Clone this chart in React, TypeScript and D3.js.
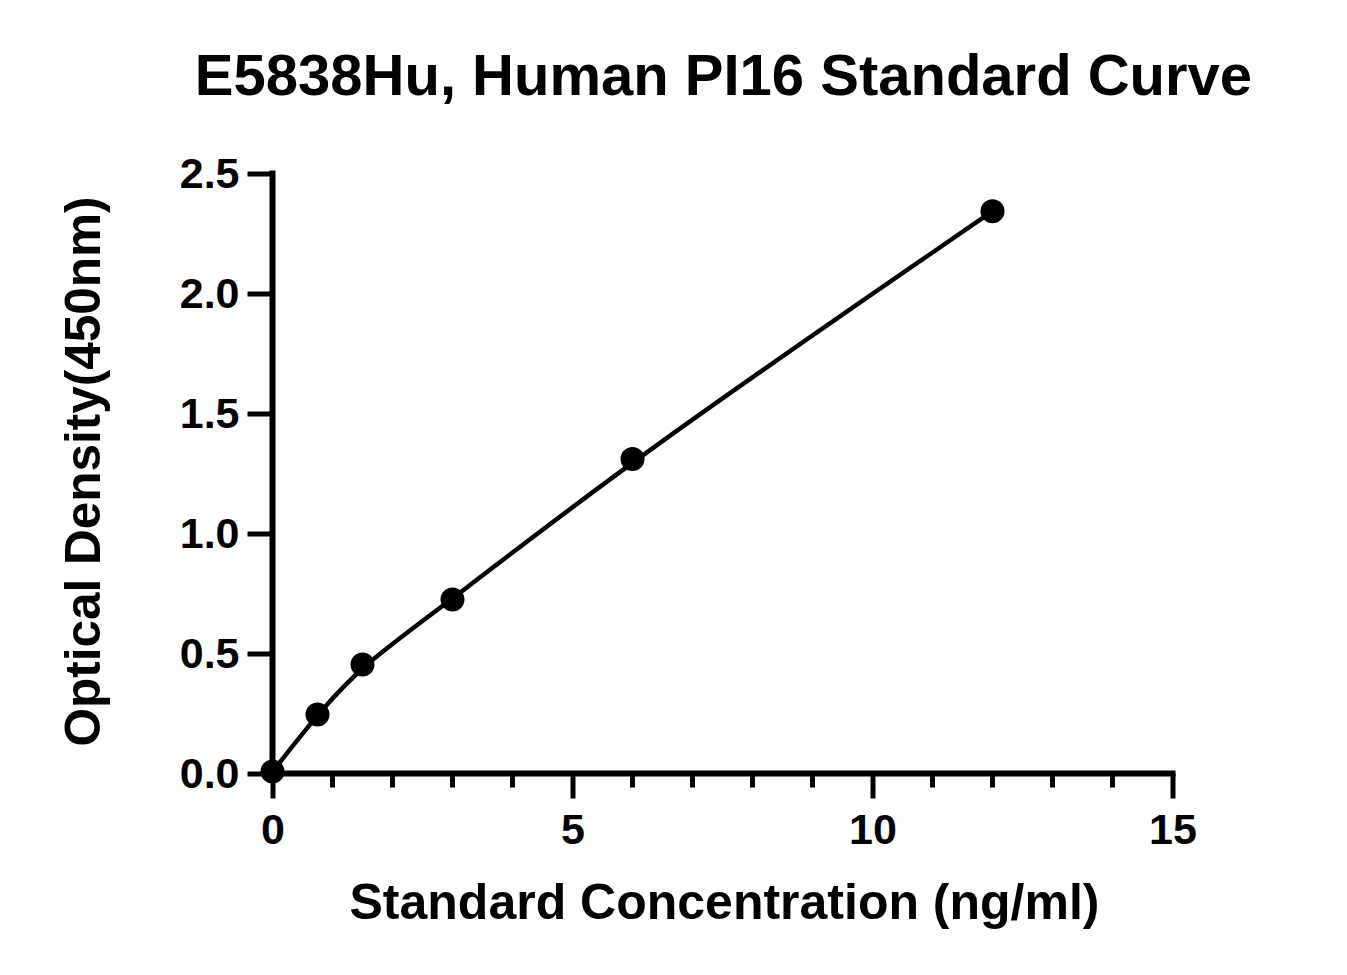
import * as d3 from 'd3'
import { useEffect, useRef } from 'react'

// Standard curve readings (concentration in ng/ml, OD at 450nm)
const concentrations = [0, 0.75, 1.5, 3, 6, 12]
const odValues = [0.008, 0.246, 0.454, 0.725, 1.31, 2.343]
const xTicks = [0, 5, 10, 15]
const xMinorTicks = d3.range(0, 16)
const yTicks = [0, 0.5, 1.0, 1.5, 2.0, 2.5]

const title = 'E5838Hu, Human PI16 Standard Curve'
const xTitle = 'Standard Concentration (ng/ml)'
const yTitle = 'Optical Density(450nm)'

const FONT = '"Liberation Sans", Arial, sans-serif'

export default function App() {
  const svgRef = useRef<SVGSVGElement>(null)

  useEffect(() => {
    if (!svgRef.current) return

    const width = 1347
    const height = 975
    const margin = { top: 173.5, right: 174.5, bottom: 201.5, left: 272.5 }
    const innerW = width - margin.left - margin.right
    const innerH = height - margin.top - margin.bottom

    const data = concentrations.map((c, i) => ({ x: c, y: odValues[i] }))

    const xScale = d3.scaleLinear().domain([0, 15]).range([0, innerW])
    const yScale = d3.scaleLinear().domain([0, 2.5]).range([innerH, 0])

    d3.select(svgRef.current).selectAll('*').remove()

    const root = d3
      .select(svgRef.current)
      .attr('width', width)
      .attr('height', height)

    root
      .append('rect')
      .attr('width', width)
      .attr('height', height)
      .attr('fill', '#fff')

    // Title
    root
      .append('text')
      .attr('x', margin.left + innerW / 2 + 1)
      .attr('y', 95)
      .attr('text-anchor', 'middle')
      .attr('font-family', FONT)
      .attr('font-weight', 'bold')
      .attr('font-size', 58)
      .attr('fill', '#000')
      .text(title)

    const svg = root
      .append('g')
      .attr('transform', `translate(${margin.left},${margin.top})`)

    // Minor x ticks
    svg
      .append('g')
      .attr('transform', `translate(0,${innerH})`)
      .selectAll('line')
      .data(xMinorTicks.filter((t) => !xTicks.includes(t)))
      .enter()
      .append('line')
      .attr('x1', (d: number) => xScale(d))
      .attr('x2', (d: number) => xScale(d))
      .attr('y1', 0)
      .attr('y2', 14)
      .attr('stroke', '#000')
      .attr('stroke-width', 5)

    // X axis
    const xAxis = svg
      .append('g')
      .attr('transform', `translate(0,${innerH})`)
      .call(
        d3
          .axisBottom(xScale)
          .tickValues(xTicks)
          .tickSize(25)
          .tickSizeOuter(0)
          .tickPadding(15)
          .tickFormat(d3.format('d'))
      )
    xAxis.select('.domain').attr('stroke-width', 6).attr('d', `M-3,0H${innerW + 3}`)
    xAxis.selectAll('.tick line').attr('stroke-width', 5)
    xAxis
      .selectAll('.tick text')
      .attr('font-family', FONT)
      .attr('font-weight', 'bold')
      .attr('font-size', 43)
      .attr('fill', '#000')

    // Y axis
    const yAxis = svg
      .append('g')
      .call(
        d3
          .axisLeft(yScale)
          .tickValues(yTicks)
          .tickSize(25)
          .tickSizeOuter(0)
          .tickPadding(8)
          .tickFormat(d3.format('.1f'))
      )
    yAxis.select('.domain').attr('stroke-width', 6).attr('d', `M0,-3V${innerH + 3}`)
    yAxis.selectAll('.tick line').attr('stroke-width', 5)
    yAxis
      .selectAll('.tick text')
      .attr('font-family', FONT)
      .attr('font-weight', 'bold')
      .attr('font-size', 43)
      .attr('fill', '#000')

    // Axis titles
    root
      .append('text')
      .attr('x', margin.left + innerW / 2 + 2)
      .attr('y', 919)
      .attr('text-anchor', 'middle')
      .attr('font-family', FONT)
      .attr('font-weight', 'bold')
      .attr('font-size', 50)
      .attr('fill', '#000')
      .text(xTitle)

    root
      .append('text')
      .attr('transform', `translate(100,${margin.top + innerH / 2 - 2}) rotate(-90)`)
      .attr('text-anchor', 'middle')
      .attr('font-family', FONT)
      .attr('font-weight', 'bold')
      .attr('font-size', 49.5)
      .attr('fill', '#000')
      .text(yTitle)

    // Fitted curve (smoothed through the standards)
    const line = d3
      .line<{ x: number; y: number }>()
      .x((d) => xScale(d.x))
      .y((d) => yScale(d.y))
      .curve(d3.curveBasis)

    svg
      .append('path')
      .datum(data)
      .attr('fill', 'none')
      .attr('stroke', '#000')
      .attr('stroke-width', 4.5)
      .attr('d', line)

    // Points
    svg
      .selectAll('.dot')
      .data(data)
      .enter()
      .append('circle')
      .attr('class', 'dot')
      .attr('cx', (d: { x: number; y: number }) => xScale(d.x))
      .attr('cy', (d: { x: number; y: number }) => yScale(d.y))
      .attr('r', 12)
      .attr('fill', '#000')
  }, [])

  return (
    <svg
      ref={svgRef}
      style={{ position: 'absolute', left: 0, top: 0, display: 'block' }}
    />
  )
}
